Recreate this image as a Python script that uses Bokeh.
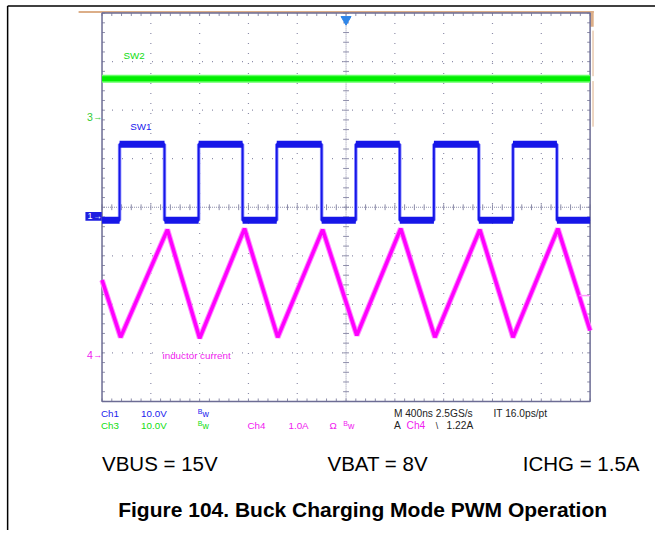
import numpy as np
from bokeh.plotting import figure
from bokeh.models import Range1d
from bokeh.core.properties import value
from bokeh.embed import file_html
from bokeh.resources import INLINE

# ---------------- data ----------------
ns_per_div = 400.0           # M 400ns
t_end = 4000.0               # 10 divisions

# Ch3 : SW2 (V)
sw2_t = [0, 4000]
sw2_v = [7.9, 7.9]

# Ch1 : SW1 switching node (V), edge times in ns
sw1_rise = [144, 792, 1432, 2080, 2720, 3368]
sw1_fall = [512, 1152, 1800, 2440, 3088, 3728]
sw1_high = 14.9
sw1_low = -0.8

# Ch4 : inductor current (A), turning points
il_t = [0, 152, 536, 800, 1168, 1440, 1808, 2088, 2448, 2728, 3096, 3368, 3736, 4000]
il_a = [1.54, 0.36, 2.58, 0.34, 2.60, 0.36, 2.58, 0.40, 2.60, 0.36, 2.58, 0.36, 2.60, 0.50]
trig_level = 1.22

# channel scales (units/div) and ground offsets (div)
ch1_scale, ch1_off = 10.0, -0.19
ch3_scale, ch3_off = 10.0, 1.86
ch4_scale, ch4_off = 1.0, -3.04

# ---------------- figure ----------------
W, H = 655, 530
X0, X1 = -2.08, 11.34
Y0, Y1 = -6.66, 4.26

p = figure(width=W, height=H, x_range=Range1d(X0, X1), y_range=Range1d(Y0, Y1),
           output_backend="svg", toolbar_location=None, min_border=0,
           x_axis_location=None, y_axis_location=None)
p.grid.visible = False
p.outline_line_color = None
p.background_fill_color = "white"
p.border_fill_color = "white"

p.extra_x_ranges = {"t": Range1d(X0 * ns_per_div, X1 * ns_per_div)}
p.extra_y_ranges = {
    "ch1": Range1d((Y0 - ch1_off) * ch1_scale, (Y1 - ch1_off) * ch1_scale),
    "ch3": Range1d((Y0 - ch3_off) * ch3_scale, (Y1 - ch3_off) * ch3_scale),
    "ch4": Range1d((Y0 - ch4_off) * ch4_scale, (Y1 - ch4_off) * ch4_scale),
}

GRID = "#8e8eaa"
FRAME = "#6c6c94"
TAN = "#dcae88"
BLUE = "#1616e8"
GREEN = "#00ee00"
MAG = "#ff00ff"
FONT = value("Liberation Sans")

# document frame lines
p.segment(x0=[-1.934], y0=[Y0], x1=[-1.934], y1=[4.146], line_color="black", line_width=1.5)
p.segment(x0=[-1.934], y0=[4.146], x1=[X1], y1=[4.146], line_color="black", line_width=1.5)

# tan frame bits
p.quad(left=[-0.48], right=[10.074], bottom=[4.0], top=[4.045], fill_color=TAN, line_color=None)
p.quad(left=[10.0], right=[10.074], bottom=[3.72], top=[4.045], fill_color=TAN, line_color=None)
p.segment(x0=[10.06, 10.06], y0=[3.64, 2.6], x1=[10.06, 10.06], y1=[2.7, 1.66],
          line_color=TAN, line_width=1)

# grid
major_v = [x for x in range(1, 10) if x != 5]
major_h = [y for y in range(-3, 4) if y != 0]
p.multi_line(xs=[[x, x] for x in major_v], ys=[[4, -4]] * len(major_v),
             line_color=GRID, line_dash="1 9", line_width=1.2)
p.multi_line(xs=[[0, 10]] * len(major_h), ys=[[y, y] for y in major_h],
             line_color=GRID, line_dash="1 9", line_width=1.2)
# centre cross
p.segment(x0=[5, 0], y0=[-4, 0], x1=[5, 10], y1=[4, 0], line_color=GRID, line_dash="1 1", line_width=1)
xminor = np.round(np.arange(0, 10.001, 0.2), 3)
yminor = np.round(np.arange(-4, 4.001, 0.2), 3)
p.segment(x0=4.94, y0=yminor, x1=5.06, y1=yminor, line_color=GRID, line_width=1)
p.segment(x0=xminor, y0=-0.06, x1=xminor, y1=0.06, line_color=GRID, line_width=1)
# edge ticks
p.segment(x0=0, y0=yminor, x1=0.06, y1=yminor, line_color=GRID, line_width=1)
p.segment(x0=9.94, y0=yminor, x1=10, y1=yminor, line_color=GRID, line_width=1)
p.segment(x0=xminor, y0=3.94, x1=xminor, y1=4, line_color=GRID, line_width=1)
p.segment(x0=xminor, y0=-4, x1=xminor, y1=-3.94, line_color=GRID, line_width=1)
# frame
p.quad(left=[0], right=[10], bottom=[-4], top=[4], fill_color=None, line_color=FRAME, line_width=1.5)

# trigger position marker
p.scatter(x=[t_end / 2], y=[3.87], marker="inverted_triangle", size=10,
          fill_color="#2f86e8", line_color="#2f86e8", x_range_name="t")

# ---------------- traces ----------------
# SW2
p.line(sw2_t, sw2_v, line_color="#66ff66", line_width=8, x_range_name="t", y_range_name="ch3")
p.line(sw2_t, sw2_v, line_color=GREEN, line_width=5, x_range_name="t", y_range_name="ch3")

# SW1 step polyline
sx, sy = [0.0], [sw1_low]
for r, f in zip(sw1_rise, sw1_fall):
    sx += [r, r, f, f]
    sy += [sw1_low, sw1_high, sw1_high, sw1_low]
sx.append(t_end)
sy.append(sw1_low)
p.line(sx, sy, line_color="#8c8cff", line_width=3.5, x_range_name="t", y_range_name="ch1")
p.line(sx, sy, line_color=BLUE, line_width=1.8, x_range_name="t", y_range_name="ch1")
# thick plateaus
hi_x0 = sw1_rise
hi_x1 = sw1_fall
lo_x0 = [0.0] + sw1_fall
lo_x1 = sw1_rise + [t_end]
p.segment(x0=hi_x0, y0=sw1_high, x1=hi_x1, y1=sw1_high, line_color=BLUE, line_width=7,
          x_range_name="t", y_range_name="ch1")
p.segment(x0=lo_x0, y0=sw1_low, x1=lo_x1, y1=sw1_low, line_color=BLUE, line_width=7,
          x_range_name="t", y_range_name="ch1")

# inductor current
p.line(il_t, il_a, line_color="#ff88ff", line_width=5.5, x_range_name="t", y_range_name="ch4")
p.line(il_t, il_a, line_color=MAG, line_width=3.5, x_range_name="t", y_range_name="ch4")
# trigger level marker
p.segment(x0=[3912], y0=[trig_level], x1=[t_end], y1=[trig_level], line_color="#ff99ff",
          line_width=1.5, x_range_name="t", y_range_name="ch4")


# ---------------- texts ----------------
def txt(x, y, s, color, size="9.8px", align="left", baseline="middle", bold=False):
    p.text(x=[x], y=[y], text=[s], text_color=color, text_font=FONT,
           text_font_size=size, text_align=align, text_baseline=baseline,
           text_font_style="bold" if bold else "normal")


def bw(x, y, color):
    txt(x, y + 0.04, "B", color, size="7px")
    txt(x + 0.1, y - 0.015, "w", color, size="8.8px")


TBLUE = "#1a1aee"
TGREEN = "#11dd11"
TMAG = "#f020f0"
TBLK = "#222222"

# in-screen labels
txt(0.44, 3.12, "SW2", TGREEN)
txt(0.58, 1.67, "SW1", TBLUE)
txt(1.24, -3.06, "inductor current", TMAG)

# channel ground markers
txt(-0.31, ch3_off, "3", "#33cc33", size="10.5px")
txt(-0.18, ch3_off, "\u2192", "#33cc33", size="9px")
txt(-0.31, ch4_off, "4", TMAG, size="10.5px")
txt(-0.18, ch4_off, "\u2192", TMAG, size="9px")
p.quad(left=[-0.34], right=[-0.005], bottom=[ch1_off - 0.09], top=[ch1_off + 0.09],
       fill_color="#1e1ee0", line_color=None)
txt(-0.3, ch1_off, "1", "white", size="9px")
txt(-0.18, ch1_off, "\u2192", "white", size="8.5px")

# status rows
r1, r2 = -4.25, -4.5
txt(-0.02, r1, "Ch1", TBLUE)
txt(0.8, r1, "10.0V", TBLUE)
bw(1.96, r1, TBLUE)
txt(5.98, r1, "M 400ns 2.5GS/s", TBLK, size="10.2px")
txt(8.02, r1, "IT 16.0ps/pt", TBLK, size="10.2px")

txt(-0.02, r2, "Ch3", TGREEN)
txt(0.8, r2, "10.0V", TGREEN)
bw(1.96, r2, TGREEN)
txt(2.98, r2, "Ch4", TMAG)
txt(3.82, r2, "1.0A", TMAG)
txt(4.66, r2, "\u03a9", TMAG)
bw(4.94, r2, TMAG)
txt(5.98, r2, "A", TBLK, size="10.2px")
txt(6.24, r2, "Ch4", TMAG, size="10.2px")
txt(6.84, r2, "\\", TBLK, size="8.8px")
txt(7.06, r2, "1.22A", TBLK, size="10.2px")

# conditions and caption
cond_text = ["VBUS = 15V", "VBAT = 8V", "ICHG = 1.5A"]
cond_x = [0.0, 4.62, 8.62]
for cx, ct in zip(cond_x, cond_text):
    txt(cx, -5.28, ct, "black", size="20.5px", baseline="alphabetic")
txt(5.34, -6.22, "Figure 104. Buck Charging Mode PWM Operation", "black", size="21px",
    align="center", baseline="alphabetic", bold=True)

open("out.html", "w").write(file_html(p, INLINE))
